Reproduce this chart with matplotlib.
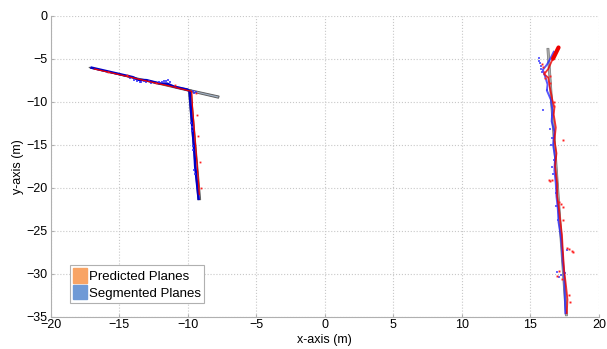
import matplotlib
matplotlib.use("Agg")
import matplotlib.pyplot as plt
from matplotlib.patches import Patch, Polygon

plt.rcParams['font.family'] = ['Liberation Sans', 'DejaVu Sans']

# ---- data ----
# segmented planes (outlines)
plane_a_x = [-17.2, -7.7, -7.75, -17.1]
plane_a_y = [-6.0, -9.35, -9.6, -6.1]
plane_b_x = [-9.95, -9.75, -9.05, -9.25]
plane_b_y = [-8.6, -8.6, -21.4, -21.4]
plane_c_x = [16.2, 16.35, 17.7, 17.55]
plane_c_y = [-3.8, -3.8, -34.9, -34.9]

# segmented (blue) point traces
blue_left_x = [-17.0, -15.5, -14.0, -13.6, -13.0, -12.0, -11.5, -11.0, -10.0, -9.85, -9.8, -9.7, -9.6, -9.5, -9.45, -9.35, -9.25, -9.2]
blue_left_y = [-6.05, -6.6, -7.15, -7.45, -7.5, -7.9, -7.9, -8.25, -8.6, -8.8, -10.0, -12.0, -14.0, -16.0, -17.5, -19.0, -20.5, -21.3]
blue_bump_x = [-14.2, -13.9, -13.7, -13.5, -13.4, -13.2, -13.0, -12.8, -12.7, -12.1, -11.9, -11.7, -11.6, -11.4, -11.3, -9.6, -9.5, -9.4, -9.72, -9.7, -9.68, -9.62, -9.6, -9.5, -9.45]
blue_bump_y = [-7.3, -7.5, -7.6, -7.7, -7.75, -7.6, -7.7, -7.65, -7.8, -7.75, -7.7, -7.55, -7.6, -7.5, -7.75, -8.8, -9.0, -8.9, -12.5, -13.0, -13.4, -15.2, -15.6, -18.0, -18.4]

red_left_x = [-16.8, -15.0, -13.0, -11.0, -10.0, -9.7, -9.65, -9.55, -9.45, -9.35, -9.25, -9.15]
red_left_y = [-6.2, -6.85, -7.6, -8.3, -8.7, -8.8, -10.5, -12.5, -14.5, -16.5, -18.5, -20.8]
red_dots_left_x = [-15.8, -14.4, -12.3, -10.9, -9.4, -9.3, -9.25, -9.1, -9.0]
red_dots_left_y = [-6.5, -6.9, -7.8, -8.1, -9.0, -11.5, -14.0, -17.0, -20.0]

blue_right_x = [16.7, 16.45, 16.2, 15.9, 16.1, 16.25, 16.2, 16.5, 16.6, 16.55, 16.75, 16.65, 16.8, 16.75, 16.85, 16.9, 17.0, 17.05, 17.2, 17.3, 17.35, 17.45, 17.5, 17.55]
blue_right_y = [-4.2, -5.0, -5.7, -6.3, -7.2, -8.0, -8.7, -9.8, -11.0, -12.3, -13.5, -15.0, -16.5, -18.0, -19.5, -21.0, -22.5, -24.0, -25.5, -27.0, -28.5, -30.0, -32.0, -34.6]
blue_dots_right_x = [15.6, 15.65, 15.7, 15.75, 15.8, 15.85, 15.95, 16.2, 16.6, 17.65, 16.95, 17.1, 17.2, 17.5, 17.6, 16.5, 16.45, 16.6, 16.7, 16.55, 16.65, 16.85, 16.9, 17.0]
blue_dots_right_y = [-4.9, -5.3, -5.5, -5.9, -6.2, -6.5, -10.95, -8.6, -11.8, -27.25, -29.8, -30.4, -30.2, -29.9, -34.4, -15.0, -13.2, -14.2, -16.8, -17.6, -18.4, -20.6, -22.1, -23.8]

red_right_x = [17.05, 16.8, 16.55, 16.3, 16.0, 16.3, 16.4, 16.6, 16.75, 16.7, 16.85, 16.75, 16.9, 16.8, 16.95, 16.95, 17.05, 17.15, 17.3, 17.35, 17.45, 17.6, 17.7, 17.65]
red_right_y = [-3.7, -4.5, -5.3, -6.2, -6.8, -7.2, -8.2, -9.8, -10.7, -11.5, -13.0, -14.5, -16.0, -17.5, -19.5, -21.0, -22.0, -23.5, -25.5, -27.0, -29.5, -31.5, -33.0, -34.6]
red_dots_right_x = [15.9, 16.0, 16.05, 15.85, 17.36, 16.35, 16.45, 16.6, 17.1, 17.2, 17.4, 17.35, 17.7, 17.8, 18.0, 18.1, 16.95, 17.1, 17.3, 17.8, 17.85, 16.4, 16.45, 16.7, 16.75]
red_dots_right_y = [-6.0, -6.6, -7.3, -5.6, -14.45, -19.1, -19.2, -19.1, -21.7, -21.9, -22.2, -23.8, -27.0, -27.1, -27.4, -27.5, -30.3, -29.7, -30.6, -32.5, -33.3, -7.0, -7.8, -10.0, -10.5]

xticks = [-20, -15, -10, -5, 0, 5, 10, 15, 20]
yticks = [0, -5, -10, -15, -20, -25, -30, -35]

# ---- figure ----
fig = plt.figure(figsize=(6.07, 3.49), dpi=100)
ax = fig.add_axes([0.0832, 0.0926, 0.9036, 0.8625])

ax.add_patch(Polygon(list(zip(plane_a_x, plane_a_y)), closed=True, facecolor='#a4b4c8',
                     edgecolor='#606060', lw=0.7, zorder=2))
ax.add_patch(Polygon(list(zip(plane_b_x, plane_b_y)), closed=True, facecolor='#a4b4c8',
                     edgecolor='#606060', lw=0.7, zorder=2))
ax.add_patch(Polygon(list(zip(plane_c_x, plane_c_y)), closed=True, facecolor='#b0b0b0',
                     edgecolor='#808080', lw=0.6, zorder=2))

ax.plot(blue_left_x, blue_left_y, color='#0000c8', lw=1.8, zorder=3)
ax.plot(red_left_x, red_left_y, color='#ee0000', lw=0.9, zorder=4)
ax.plot(blue_bump_x, blue_bump_y, ls='none', marker='s', ms=1.6, mew=0, color='#3030ff', alpha=0.8, zorder=3)
ax.plot(red_dots_left_x, red_dots_left_y, ls='none', marker='s', ms=1.3, mew=0, color='#ff2020', zorder=4)

ax.plot(blue_right_x, blue_right_y, color='#2020ff', lw=1.4, alpha=0.75, zorder=3)
ax.plot(red_right_x, red_right_y, color='#ee0000', lw=1.3, alpha=0.8, zorder=4)
ax.plot([17.05, 16.65], [-3.7, -5.0], color='#ee0000', lw=3, solid_capstyle='round', zorder=4)
ax.plot(blue_dots_right_x, blue_dots_right_y, ls='none', marker='s', ms=1.5, mew=0, color='#4040ff', alpha=0.8, zorder=3)
ax.plot(red_dots_right_x, red_dots_right_y, ls='none', marker='s', ms=1.4, mew=0, color='#ff2020', zorder=4)

ax.set_xlim(-20, 20)
ax.set_ylim(-35, 0)
ax.set_xticks(xticks)
ax.set_yticks(yticks)
ax.tick_params(labelsize=9, length=2, direction='in', color='#b0b0b0', pad=2)
ax.grid(True, ls=':', color='#c8c8c8', lw=0.8)
for s in ['top', 'right']:
    ax.spines[s].set_visible(False)
for s in ['left', 'bottom']:
    ax.spines[s].set_color('#b0b0b0')
ax.set_xlabel('x-axis (m)', fontsize=9, labelpad=2)
ax.set_ylabel('y-axis (m)', fontsize=9, labelpad=2)

handles = [Patch(facecolor='#F8A465', edgecolor='#F8A465', label='Predicted Planes'),
           Patch(facecolor='#6F9AD6', edgecolor='#6F9AD6', label='Segmented Planes')]
leg = ax.legend(handles=handles, loc='lower left', bbox_to_anchor=(0.0356, 0.0455),
                borderaxespad=0, fontsize=9.5, handlelength=1.0, handleheight=1.3,
                handletextpad=0.2, labelspacing=0.15, borderpad=0.25,
                fancybox=False, framealpha=1, edgecolor='#b0b0b0')
leg.get_frame().set_linewidth(0.8)

fig.savefig('out.png', dpi=100)
